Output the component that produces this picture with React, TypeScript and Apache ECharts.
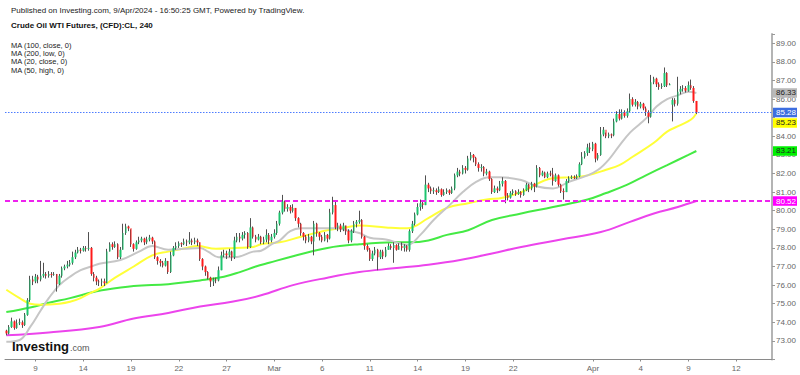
import React, { useEffect, useRef } from "react";
import * as echarts from "echarts";

const FONT = "'Liberation Sans', Arial, Helvetica, sans-serif";

// ---- candle data (4h bars, CL futures) ----
const firstOpen = 73.55;
const closes = [
  73.4, 73.75, 74.05, 73.7, 73.95, 74.0, 73.85, 74.4, 75.2, 76.3,
  76.2, 76.45, 76.3, 76.5, 76.6, 76.5, 76.6, 76.55, 76.6, 76.05,
  76.5, 76.9, 77.0, 77.1, 77.2, 77.5, 77.75, 77.9, 77.85, 78.0,
  77.95, 78.0, 76.6, 76.4, 76.2, 76.15, 76.2, 76.1, 77.8, 78.2,
  78.05, 78.2, 77.5, 77.9, 78.8, 79.15, 79.05, 78.2, 77.95, 78.3,
  78.4, 78.5, 78.3, 78.45, 78.55, 78.35, 77.5, 77.3, 77.2, 77.05,
  77.3, 76.7, 77.6, 78.0, 78.1, 78.25, 78.2, 78.35, 78.3, 78.4,
  78.3, 78.4, 78.3, 77.4, 77.0, 76.7, 76.4, 76.2, 76.3, 76.25,
  76.8, 77.6, 77.7, 77.6, 77.8, 77.5, 78.4, 78.6, 78.5, 78.7,
  78.8, 78.05, 79.1, 78.6, 78.45, 78.6, 78.3, 78.45, 78.7, 78.4,
  78.6, 78.8, 79.3, 79.9, 80.5, 80.1, 80.2, 80.0, 80.15, 79.6,
  79.3, 78.8, 78.6, 78.4, 78.6, 78.35, 79.3, 78.8, 78.6, 78.4,
  78.7, 78.5, 79.9, 80.3, 79.1, 79.2, 79.0, 79.2, 78.9, 78.4,
  78.9, 79.3, 79.4, 79.5, 78.6, 78.1, 77.9, 77.4, 77.7, 77.9,
  77.5, 77.8, 77.55, 77.9, 78.1, 78.0, 78.15, 77.9, 78.1, 78.0,
  78.1, 77.9, 78.9, 79.3, 79.8, 80.2, 80.4, 80.3, 81.4, 81.2,
  81.05, 81.1, 81.0, 81.15, 80.85, 81.0, 81.1, 80.95, 81.2, 81.9,
  82.1, 82.0, 82.3, 82.2, 82.8, 83.0, 82.85, 82.5, 82.3, 82.35,
  82.0, 82.1, 81.7, 81.0, 81.2, 81.1, 81.45, 81.6, 80.8, 80.7,
  80.95, 81.05, 80.9, 81.0, 80.85, 81.1, 81.4, 81.2, 81.45, 81.3,
  82.3, 81.9, 82.05, 81.8, 82.0, 81.95, 81.6, 81.9, 81.4, 81.05,
  81.0, 81.6, 81.75, 81.8, 81.75, 81.85, 82.5, 82.9, 83.1, 83.4,
  83.3, 83.6, 82.8, 83.0, 84.1, 84.35, 84.0, 84.1, 84.05, 84.8,
  85.2, 84.95, 85.3, 85.1, 85.35, 86.0, 85.7, 85.85, 85.6, 85.75,
  85.5, 85.3, 85.05, 86.9, 87.1, 86.8, 86.65, 86.7, 87.4, 86.75,
  86.8, 85.95, 85.75, 86.4, 86.55, 86.6, 86.45, 86.75, 86.6, 85.9,
  85.28,
];
const highs = [
  73.6, 73.85, 74.25, 74.1, 74.15, 74.2, 74.1, 74.5, 75.3, 76.5,
  76.5, 76.6, 76.55, 77.3, 77.2, 76.7, 76.75, 76.7, 76.7, 76.6,
  76.6, 77.0, 77.1, 77.3, 77.35, 77.8, 77.9, 78.05, 78.0, 78.1,
  78.1, 78.85, 78.05, 76.7, 76.5, 76.3, 76.35, 76.35, 77.95, 78.3,
  78.3, 78.35, 78.25, 78.05, 79.3, 79.3, 79.2, 79.0, 78.25, 78.4,
  78.6, 78.6, 78.55, 78.6, 78.7, 78.6, 78.4, 77.55, 77.4, 77.3,
  77.45, 77.3, 77.8, 78.1, 78.3, 78.35, 78.3, 78.5, 78.45, 78.85,
  78.5, 78.55, 78.5, 78.3, 77.45, 77.05, 76.75, 76.45, 76.4, 76.4,
  77.0, 77.8, 77.9, 77.85, 77.95, 77.85, 78.6, 78.8, 78.8, 78.85,
  78.9, 78.85, 79.6, 79.15, 78.7, 78.75, 78.65, 78.6, 79.0, 78.8,
  78.75, 79.0, 79.45, 80.0, 80.85, 80.55, 80.35, 80.3, 80.35, 80.1,
  79.65, 79.35, 78.85, 78.7, 78.75, 78.65, 79.45, 79.35, 78.85, 78.7,
  78.85, 78.75, 80.1, 80.75, 80.5, 79.35, 79.3, 79.35, 79.2, 79.0,
  79.0, 79.45, 79.5, 80.0, 79.55, 78.65, 78.2, 78.0, 77.85, 78.05,
  77.95, 77.9, 77.9, 78.05, 78.25, 78.2, 78.3, 78.2, 78.25, 78.3,
  78.2, 78.15, 79.0, 79.45, 79.9, 80.4, 80.6, 80.55, 81.9, 81.5,
  81.3, 81.25, 81.2, 81.3, 81.2, 81.15, 81.2, 81.15, 81.3, 82.0,
  82.3, 82.2, 82.45, 82.4, 82.95, 83.15, 83.05, 82.9, 82.6, 82.5,
  82.4, 82.25, 82.15, 81.75, 81.35, 81.3, 81.6, 81.8, 81.65, 80.95,
  81.05, 81.15, 81.1, 81.15, 81.05, 81.2, 81.5, 81.45, 81.55, 81.5,
  82.45, 82.35, 82.15, 82.1, 82.1, 82.15, 82.3, 82.0, 81.95, 81.45,
  81.2, 81.7, 81.85, 81.9, 81.9, 81.95, 82.6, 83.15, 83.2, 83.6,
  83.65, 83.7, 83.65, 83.1, 84.5, 84.5, 84.2, 84.2, 84.15, 84.95,
  85.35, 85.45, 85.45, 85.4, 85.5, 86.3, 86.1, 86.0, 85.9, 85.85,
  85.8, 85.6, 85.4, 87.3, 87.2, 87.15, 86.9, 86.85, 87.7, 87.45,
  86.85, 86.05, 86.05, 87.2, 86.7, 86.75, 86.7, 86.95, 87.05, 86.7,
  85.9,
];
const lows = [
  73.3, 73.35, 73.7, 73.6, 73.65, 73.85, 73.7, 73.8, 74.35, 75.1,
  76.0, 76.1, 76.1, 76.2, 76.4, 76.35, 76.4, 76.4, 76.5, 75.65,
  76.0, 76.4, 76.8, 76.9, 77.0, 77.1, 77.4, 77.7, 77.7, 77.8,
  77.8, 77.85, 76.5, 76.2, 76.0, 75.95, 75.95, 75.95, 76.1, 77.8,
  77.9, 78.0, 77.4, 77.4, 77.9, 78.7, 78.9, 78.05, 77.8, 77.9,
  78.2, 78.3, 78.15, 78.2, 78.35, 78.2, 77.4, 77.1, 77.0, 76.95,
  77.0, 76.6, 76.65, 77.55, 77.9, 78.0, 78.05, 78.15, 78.1, 78.2,
  78.15, 78.2, 78.1, 77.3, 76.8, 76.5, 76.3, 75.9, 75.95, 76.1,
  76.2, 76.8, 77.5, 77.4, 77.5, 77.3, 77.4, 78.3, 78.3, 78.4,
  78.5, 77.95, 78.0, 78.5, 78.3, 78.4, 78.2, 78.2, 78.3, 78.2,
  78.3, 78.5, 78.7, 79.2, 79.8, 79.95, 79.95, 79.85, 79.9, 79.45,
  79.1, 78.65, 78.4, 78.25, 78.3, 78.2, 77.6, 78.6, 78.4, 78.3,
  78.35, 78.3, 78.45, 79.8, 79.0, 78.9, 78.85, 78.9, 78.7, 78.25,
  78.3, 78.8, 79.1, 79.3, 78.5, 77.9, 77.8, 77.3, 77.3, 77.6,
  76.8, 77.4, 77.4, 77.5, 77.9, 77.9, 77.2, 77.85, 77.9, 77.85,
  77.8, 77.8, 77.8, 78.8, 79.2, 79.75, 80.0, 80.1, 80.3, 81.0,
  80.9, 80.9, 80.85, 80.95, 80.75, 80.8, 80.9, 80.85, 80.9, 81.1,
  81.8, 81.85, 81.95, 82.0, 82.15, 82.7, 82.6, 82.4, 82.1, 82.1,
  81.85, 81.9, 81.6, 80.9, 80.95, 80.95, 81.05, 81.3, 80.4, 80.55,
  80.65, 80.85, 80.8, 80.85, 80.7, 80.8, 81.05, 81.0, 81.1, 81.0,
  81.25, 81.8, 81.85, 81.75, 81.75, 81.85, 81.35, 81.55, 81.3, 80.95,
  80.6, 81.0, 81.5, 81.7, 81.7, 81.7, 81.8, 82.45, 82.8, 82.95,
  83.1, 83.2, 82.6, 82.7, 82.95, 84.0, 83.9, 83.9, 83.9, 84.0,
  84.75, 84.85, 84.9, 85.0, 85.0, 85.3, 85.6, 85.6, 85.45, 85.5,
  85.4, 85.1, 84.7, 85.0, 86.8, 86.65, 86.5, 86.55, 86.65, 86.65,
  86.75, 84.8, 85.6, 85.65, 86.25, 86.4, 86.35, 86.4, 86.5, 85.8,
  85.2,
];
// opening gap after the weekend (bar index, open)
const gapOpens: [number, number][] = [[251, 85.7]];

// ---- axes ----
const slotCount = 289;
const dayLabelIdx = [11, 29, 47, 65, 83, 101, 119, 137, 155, 173, 191, 221, 239, 257, 275];
const dayLabelText = ["9", "14", "19", "22", "27", "Mar", "6", "11", "14", "19", "22", "Apr", "4", "9", "12"];
const yMin = 72;
const yMax = 89.5;
const yStep = 1;
// price labels that sit fully under a value tag in the reference
const hiddenPriceLabels = [85];

// ---- moving averages [bar index, value] ----
const maGrey = [
  [0, 72.95], [5, 73.05], [9, 73.75], [13, 74.65], [16, 75.3], [20, 76.0], [24, 76.45], [28, 76.8],
  [32, 77.0], [35, 77.15], [43, 77.35], [50, 77.8], [55, 78.1], [61, 77.9], [67, 77.95], [73, 78.0],
  [76, 77.8], [80, 77.5], [86, 77.5], [93, 77.8], [96, 77.85], [100, 78.2], [103, 78.4], [107, 78.9],
  [111, 79.05], [117, 79.05], [125, 79.05], [128, 78.95], [133, 78.8], [137, 78.55], [143, 78.45],
  [148, 78.25], [151, 78.15], [156, 78.7], [161, 79.5], [167, 80.3], [172, 81.0], [177, 81.55],
  [182, 81.8], [186, 81.8], [194, 81.65], [200, 81.3], [206, 81.2], [212, 81.55], [219, 81.9],
  [223, 82.2], [227, 82.75], [231, 83.5], [235, 84.2], [239, 84.7], [242, 85.1], [245, 85.6],
  [249, 86.0], [253, 86.2], [257, 86.4], [260, 86.33],
];
const maYellow = [
  [0, 75.75], [5, 75.3], [9, 75.0], [13, 74.95], [20, 75.0], [24, 75.1], [28, 75.3], [32, 75.6],
  [35, 75.8], [41, 76.4], [48, 77.0], [55, 77.6], [61, 77.8], [68, 78.0], [72, 78.1], [79, 77.95],
  [86, 78.0], [93, 78.05], [96, 78.2], [103, 78.3], [111, 78.6], [121, 78.95], [128, 79.1],
  [133, 79.2], [143, 79.1], [151, 79.05], [159, 79.6], [166, 80.15], [174, 80.4], [181, 80.6],
  [187, 80.7], [194, 81.0], [206, 81.75], [214, 81.8], [219, 81.9], [226, 82.2], [231, 82.45],
  [236, 82.9], [244, 83.65], [249, 84.25], [254, 84.6], [258, 84.9], [260, 85.23],
];
const maGreen = [
  [0, 74.55], [9, 74.8], [16, 75.05], [24, 75.3], [32, 75.6], [35, 75.7], [48, 75.95], [61, 76.05],
  [73, 76.25], [82, 76.45], [88, 76.7], [94, 77.0], [99, 77.2], [108, 77.55], [121, 78.0],
  [133, 78.2], [146, 78.3], [152, 78.3], [159, 78.4], [166, 78.7], [174, 78.95], [183, 79.5],
  [194, 79.85], [206, 80.2], [219, 80.6], [226, 80.95], [234, 81.4], [241, 81.9], [249, 82.45],
  [257, 83.0], [260, 83.21],
];
const maMagenta = [
  [0, 73.3], [16, 73.45], [35, 73.75], [48, 74.2], [61, 74.5], [73, 74.85], [85, 75.1], [96, 75.45],
  [108, 76.0], [121, 76.4], [133, 76.7], [146, 76.9], [159, 77.1], [171, 77.35], [183, 77.7],
  [194, 78.05], [209, 78.45], [224, 78.85], [235, 79.4], [244, 79.85], [253, 80.2], [260, 80.52],
];

// ---- last-value tags ----
const tagValues = [86.33, 85.28, 85.23, 83.21, 80.52];
const lastPrice = 85.28;
const maLowLevel = 80.52;

// ---- texts ----
const publishedText = "Published on Investing.com, 9/Apr/2024 - 16:50:25 GMT, Powered by TradingView.";
const titleText = "Crude Oil WTI Futures, (CFD):CL, 240";
const maLegend = ["MA (100, close, 0)", "MA (200, low, 0)", "MA (20, close, 0)", "MA (50, high, 0)"];

const UP = "#1cc46e";
const DOWN = "#ff1a1a";
const WICK = "#505050";

export default function App() {
  const ref = useRef<HTMLDivElement>(null);

  useEffect(() => {
    const chart = echarts.init(ref.current as HTMLDivElement, null, { renderer: "svg" });

    const opens = closes.map((c, i) => (i === 0 ? firstOpen : closes[i - 1]));
    gapOpens.forEach(([i, o]) => {
      opens[i] = o;
    });
    const wickData = closes.map((c, i) => [opens[i], c, lows[i], highs[i]]);
    const bodyData = closes.map((c, i) => [opens[i], c, Math.min(opens[i], c), Math.max(opens[i], c)]);
    const labelMap = new Map<number, string>(dayLabelIdx.map((idx, k) => [idx, dayLabelText[k]]));
    const cats = Array.from({ length: slotCount }, (_, i) => String(i));

    const maLine = (data: number[][], color: string) => ({
      type: "line",
      data,
      showSymbol: false,
      smooth: 0.4,
      silent: true,
      z: 2,
      lineStyle: { color, width: 2 },
    });

    chart.setOption({
      animation: false,
      backgroundColor: "#ffffff",
      grid: { left: 5, right: 28, top: 34, bottom: 15.5 },
      xAxis: {
        type: "category",
        data: cats,
        boundaryGap: true,
        axisLine: { show: true, onZero: false, lineStyle: { color: "#8a8a8a", width: 1 } },
        axisTick: {
          show: true,
          interval: (i: number) => labelMap.has(i),
          alignWithLabel: true,
          length: 2,
          lineStyle: { color: "#8a8a8a" },
        },
        axisLabel: {
          interval: (i: number) => labelMap.has(i),
          formatter: (_v: string, i: number) => labelMap.get(i) ?? "",
          fontSize: 8,
          color: "#666",
          margin: 5,
          fontFamily: FONT,
        },
        splitLine: { show: false },
      },
      yAxis: {
        type: "value",
        position: "right",
        min: yMin,
        max: yMax,
        interval: yStep,
        axisLine: { show: true, lineStyle: { color: "#b4b4b4", width: 2 } },
        axisTick: { show: true, length: 3, lineStyle: { color: "#999" } },
        axisLabel: {
          fontSize: 8,
          color: "#666",
          margin: 4,
          fontFamily: FONT,
          formatter: (v: number) =>
            v < yMin + 0.5 || v > yMax - 0.25 || Math.abs(v - Math.round(v)) > 1e-6 || hiddenPriceLabels.includes(Math.round(v))
              ? ""
              : v.toFixed(2),
        },
        splitLine: { show: false },
      },
      series: [
        maLine(maMagenta, "#ec44ec"),
        maLine(maGreen, "#44ea44"),
        maLine(maYellow, "#ffff38"),
        maLine(maGrey, "#c6c6c6"),
        {
          type: "candlestick",
          data: wickData,
          barWidth: 1,
          z: 3,
          silent: true,
          itemStyle: {
            color: WICK,
            color0: WICK,
            borderColor: WICK,
            borderColor0: WICK,
            borderWidth: 1,
          },
        },
        {
          type: "candlestick",
          data: bodyData,
          barWidth: 2,
          z: 4,
          silent: true,
          itemStyle: {
            color: UP,
            color0: DOWN,
            borderColor: UP,
            borderColor0: DOWN,
            borderWidth: 0,
          },
          markLine: {
            symbol: "none",
            silent: true,
            label: { show: false },
            data: [
              { yAxis: lastPrice, lineStyle: { color: "#4d7cff", type: [1.5, 1.5], width: 1 } },
              { yAxis: maLowLevel, lineStyle: { color: "#ee22ee", type: [5, 3], width: 2 } },
            ],
          },
        },
      ],
    });

    const px = (v: number) => chart.convertToPixel({ yAxisIndex: 0 }, v) as number;
    const tagStyles = [
      { bg: "#b9b9b9", fg: "#222" },
      { bg: "#3d6ee0", fg: "#ffffff" },
      { bg: "#ffff00", fg: "#222" },
      { bg: "#00f000", fg: "#222" },
      { bg: "#ff00ff", fg: "#ffffff" },
    ];
    const ys = tagValues.map(px);
    // yellow tag is pushed below the last-price tag
    ys[2] = Math.max(ys[2], ys[1] + 10.5);

    const tags: any[] = [];
    tagValues.forEach((v, k) => {
      tags.push({
        type: "rect",
        shape: { x: 773, y: ys[k] - 4.75, width: 24, height: 9.5 },
        style: { fill: tagStyles[k].bg },
        z: 100,
      });
      tags.push({
        type: "text",
        x: 776,
        y: ys[k],
        style: {
          text: v.toFixed(2),
          fill: tagStyles[k].fg,
          fontSize: 8,
          fontFamily: FONT,
          verticalAlign: "middle",
        },
        z: 101,
      });
    });

    const texts: any[] = [
      {
        type: "text",
        x: 11,
        y: 10,
        style: { text: publishedText, fill: "#222", fontSize: 8, fontFamily: FONT, verticalAlign: "middle" },
      },
      {
        type: "text",
        x: 11,
        y: 25,
        style: {
          text: titleText,
          fill: "#111",
          fontSize: 8,
          fontWeight: "bold",
          fontFamily: FONT,
          verticalAlign: "middle",
        },
      },
      ...maLegend.map((t, k) => ({
        type: "text",
        x: 11,
        y: 45 + k * 8.4,
        style: { text: t, fill: "#222", fontSize: 7.5, fontFamily: FONT, verticalAlign: "middle" },
      })),
      {
        type: "text",
        x: 12,
        y: 346,
        z: 50,
        style: {
          text: "Investing",
          fill: "#111",
          fontSize: 13,
          fontWeight: "bold",
          fontFamily: FONT,
          verticalAlign: "middle",
        },
      },
      {
        type: "text",
        x: 70,
        y: 348,
        z: 50,
        style: { text: ".com", fill: "#555", fontSize: 9, fontFamily: FONT, verticalAlign: "middle" },
      },
    ];

    chart.setOption({ graphic: { elements: [...texts, ...tags] } });

    return () => chart.dispose();
  }, []);

  return (
    <div
      ref={ref}
      style={{ position: "fixed", left: 0, top: 0, width: 800, height: 375, background: "#fff" }}
    />
  );
}
